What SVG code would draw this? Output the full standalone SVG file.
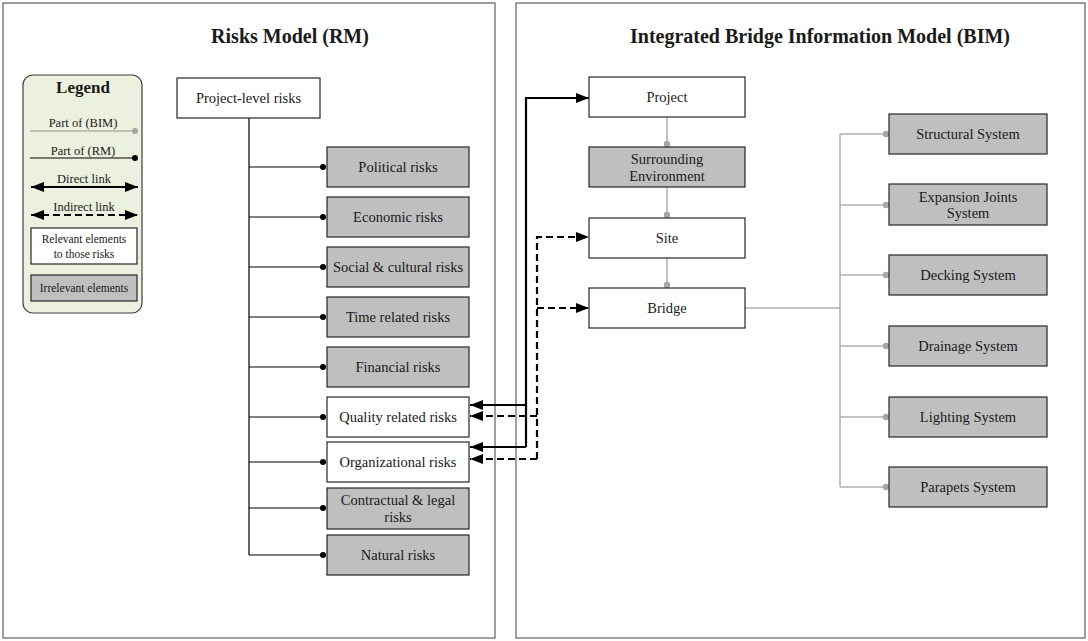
<svg xmlns="http://www.w3.org/2000/svg" width="1088" height="641" viewBox="0 0 1088 641">
<style>
text{font-family:"Liberation Serif","Times New Roman",serif;fill:#1a1a1a;text-anchor:middle}
.title{font-size:20px;font-weight:bold}
.lt{font-size:17px;font-weight:bold}
.bt{font-size:14.5px}
.sm{font-size:12.5px}
.xs{font-size:11.5px}
.panel{fill:#fff;stroke:#404040;stroke-width:1}
.rel{fill:#fff;stroke:#262626;stroke-width:1.2}
.irr{fill:#bfbfbf;stroke:#262626;stroke-width:1.2}
.rm{stroke:#000;stroke-width:1.2;fill:none}
.bim{stroke:#b0b0b0;stroke-width:1.5;fill:none}
.dr{stroke:#000;stroke-width:2.2;fill:none}
.ind{stroke:#000;stroke-width:2.2;fill:none;stroke-dasharray:7 4}
.dotb{fill:#000}
.dotg{fill:#a6a6a6}
</style>
<defs>
<marker id="ah" markerUnits="userSpaceOnUse" markerWidth="14" markerHeight="11" refX="13" refY="5" orient="auto-start-reverse">
<path d="M0,0 L13,5 L0,10 z" fill="#000"/>
</marker>
</defs>
<rect class="panel" x="3" y="3" width="492" height="635"/>
<rect class="panel" x="516" y="3" width="569" height="635"/>
<text class="title" x="290" y="43">Risks Model (RM)</text>
<text class="title" x="820" y="43">Integrated Bridge Information Model (BIM)</text>

<g id="legend">
<rect x="23" y="75" width="119" height="238" rx="10" ry="10" fill="#ebf1de" stroke="#404040" stroke-width="1.2"/>
<text class="lt" x="83" y="93">Legend</text>
<text class="sm" x="83" y="127">Part of (BIM)</text>
<line class="bim" x1="30" y1="131" x2="135" y2="131"/>
<circle class="dotg" cx="135" cy="131" r="3"/>
<text class="sm" x="83" y="155">Part of (RM)</text>
<line class="rm" x1="30" y1="158" x2="135" y2="158"/>
<circle class="dotb" cx="135" cy="158" r="3"/>
<text class="sm" x="84" y="183">Direct link</text>
<line class="dr" x1="31" y1="187" x2="138" y2="187" marker-start="url(#ah)" marker-end="url(#ah)"/>
<text class="sm" x="84" y="211">Indirect link</text>
<line class="ind" x1="31" y1="215" x2="138" y2="215" marker-start="url(#ah)" marker-end="url(#ah)"/>
<rect class="rel" x="31" y="228" width="106" height="36"/>
<text class="xs" x="84" y="243">Relevant elements</text>
<text class="xs" x="84" y="258">to those risks</text>
<rect class="irr" x="31" y="275" width="106" height="26"/>
<text class="xs" x="84" y="292">Irrelevant elements</text>
</g>

<g id="connectors">
<!-- RM tree -->
<path class="rm" d="M249,118 V555 M249,167 H323 M249,217 H323 M249,267 H323 M249,317 H323 M249,367 H323 M249,417 H323 M249,462 H323 M249,508 H323 M249,555 H323"/>
<circle class="dotb" cx="323" cy="167" r="3"/>
<circle class="dotb" cx="323" cy="217" r="3"/>
<circle class="dotb" cx="323" cy="267" r="3"/>
<circle class="dotb" cx="323" cy="317" r="3"/>
<circle class="dotb" cx="323" cy="367" r="3"/>
<circle class="dotb" cx="323" cy="417" r="3"/>
<circle class="dotb" cx="323" cy="462" r="3"/>
<circle class="dotb" cx="323" cy="508" r="3"/>
<circle class="dotb" cx="323" cy="555" r="3"/>
<!-- BIM chain -->
<path class="bim" d="M667,117 V144 M667,187 V215 M667,258 V285"/>
<circle class="dotg" cx="667" cy="144" r="3.2"/>
<circle class="dotg" cx="667" cy="215" r="3.2"/>
<circle class="dotg" cx="667" cy="285" r="3.2"/>
<!-- Bridge systems -->
<path class="bim" d="M745,308 H840 M840,134 V487 M840,134 H886 M840,205 H886 M840,275 H886 M840,346 H886 M840,417 H886 M840,487 H886"/>
<circle class="dotg" cx="886" cy="134" r="3.2"/>
<circle class="dotg" cx="886" cy="205" r="3.2"/>
<circle class="dotg" cx="886" cy="275" r="3.2"/>
<circle class="dotg" cx="886" cy="346" r="3.2"/>
<circle class="dotg" cx="886" cy="417" r="3.2"/>
<circle class="dotg" cx="886" cy="487" r="3.2"/>
<!-- direct links -->
<path class="dr" d="M526,447 V98 H589" marker-end="url(#ah)"/>
<path class="dr" d="M526,405 H470" marker-end="url(#ah)"/>
<path class="dr" d="M526,447 H470" marker-end="url(#ah)"/>
<!-- indirect links -->
<path class="ind" d="M537,459 V237 H589" marker-end="url(#ah)"/>
<path class="ind" d="M537,308 H589" marker-end="url(#ah)"/>
<path class="ind" d="M537,416 H470" marker-end="url(#ah)"/>
<path class="ind" d="M537,459 H470" marker-end="url(#ah)"/>
</g>

<g id="project-level-risks"><rect class="rel" x="177" y="78" width="143" height="40"/><text class="bt" x="248.5" y="103">Project-level risks</text></g>
<g id="political-risks"><rect class="irr" x="327" y="147" width="142" height="40"/><text class="bt" x="398" y="172">Political risks</text></g>
<g id="economic-risks"><rect class="irr" x="327" y="197" width="142" height="40"/><text class="bt" x="398" y="222">Economic risks</text></g>
<g id="social-risks"><rect class="irr" x="327" y="247" width="142" height="40"/><text class="bt" x="398" y="272">Social &amp; cultural risks</text></g>
<g id="time-risks"><rect class="irr" x="327" y="297" width="142" height="40"/><text class="bt" x="398" y="322">Time related risks</text></g>
<g id="financial-risks"><rect class="irr" x="327" y="347" width="142" height="40"/><text class="bt" x="398" y="372">Financial risks</text></g>
<g id="quality-risks"><rect class="rel" x="327" y="397" width="142" height="40"/><text class="bt" x="398" y="422">Quality related risks</text></g>
<g id="organizational-risks"><rect class="rel" x="327" y="442" width="142" height="40"/><text class="bt" x="398" y="467">Organizational risks</text></g>
<g id="contractual-risks"><rect class="irr" x="327" y="488" width="142" height="41"/><text class="bt" x="398" y="505">Contractual &amp; legal</text><text class="bt" x="398" y="522">risks</text></g>
<g id="natural-risks"><rect class="irr" x="327" y="535" width="142" height="40"/><text class="bt" x="398" y="560">Natural risks</text></g>

<g id="project"><rect class="rel" x="589" y="77" width="156" height="40"/><text class="bt" x="667" y="102">Project</text></g>
<g id="surrounding"><rect class="irr" x="589" y="147" width="156" height="40"/><text class="bt" x="667" y="164">Surrounding</text><text class="bt" x="667" y="181">Environment</text></g>
<g id="site"><rect class="rel" x="589" y="218" width="156" height="40"/><text class="bt" x="667" y="243">Site</text></g>
<g id="bridge"><rect class="rel" x="589" y="288" width="156" height="40"/><text class="bt" x="667" y="313">Bridge</text></g>

<g id="structural"><rect class="irr" x="889" y="114" width="158" height="40"/><text class="bt" x="968" y="139">Structural System</text></g>
<g id="expansion"><rect class="irr" x="889" y="184" width="158" height="41"/><text class="bt" x="968" y="202">Expansion Joints</text><text class="bt" x="968" y="218">System</text></g>
<g id="decking"><rect class="irr" x="889" y="255" width="158" height="40"/><text class="bt" x="968" y="280">Decking System</text></g>
<g id="drainage"><rect class="irr" x="889" y="326" width="158" height="40"/><text class="bt" x="968" y="351">Drainage System</text></g>
<g id="lighting"><rect class="irr" x="889" y="397" width="158" height="40"/><text class="bt" x="968" y="422">Lighting System</text></g>
<g id="parapets"><rect class="irr" x="889" y="467" width="158" height="40"/><text class="bt" x="968" y="492">Parapets System</text></g>
</svg>
